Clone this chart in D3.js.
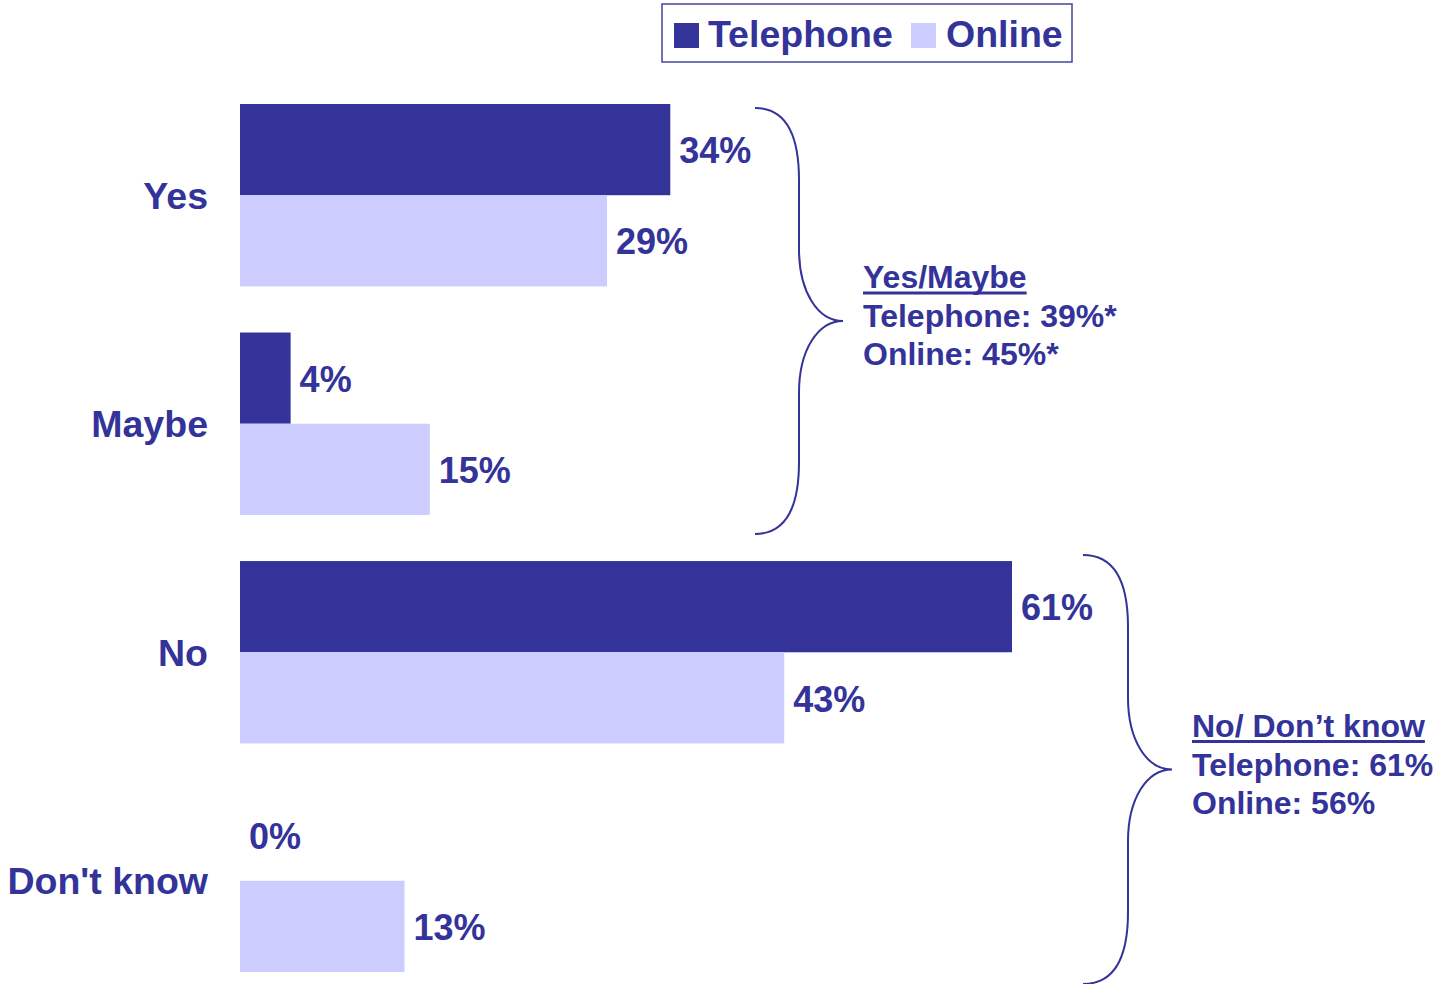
<!DOCTYPE html>
<html>
<head>
<meta charset="utf-8">
<script src="https://cdn.jsdelivr.net/npm/d3@7"></script>
<style>
  html, body { margin: 0; padding: 0; background: #fff; }
  svg { display: block; }
  text { font-family: "Liberation Sans", Arial, Helvetica, sans-serif; font-weight: bold; fill: #333399; }
</style>
</head>
<body>
<svg id="chart" width="1435" height="984"></svg>
<script>
// Survey answers by mode of interview
const categories = ["Yes", "Maybe", "No", "Don't know"];
const seriesNames = ["Telephone", "Online"];
const telephoneValues = [34, 4, 61, 0];
const onlineValues = [29, 15, 43, 13];
const seriesColors = ["#333399", "#CCCCFF"];

// Grouped totals shown beside the braces
const groupTitles = ["Yes/Maybe", "No/ Don\u2019t know"];
const groupSpans = [["Yes", "Maybe"], ["No", "Don't know"]];
const groupLines = [
  ["Telephone: 39%*", "Online: 45%*"],
  ["Telephone: 61%", "Online: 56%"]
];

const ink = "#333399";
const svg = d3.select("#chart");

const x = d3.scaleLinear().domain([0, 61]).range([240, 1012]);
const y = d3.scaleBand().domain(categories).range([104, 972]).paddingInner(46 / 228).paddingOuter(0);
const ySub = d3.scaleBand().domain(seriesNames).range([0, y.bandwidth()]);
const color = d3.scaleOrdinal().domain(seriesNames).range(seriesColors);

const rows = categories.map((c, i) => ({
  category: c,
  values: [
    { series: "Telephone", value: telephoneValues[i] },
    { series: "Online", value: onlineValues[i] }
  ]
}));

// Bars
const groups = svg.append("g").selectAll("g")
  .data(rows).join("g")
  .attr("transform", d => `translate(0,${y(d.category)})`);

groups.selectAll("rect")
  .data(d => d.values).join("rect")
  .attr("x", x(0))
  .attr("y", d => ySub(d.series))
  .attr("width", d => x(d.value) - x(0))
  .attr("height", ySub.bandwidth())
  .attr("fill", d => color(d.series));

// Value labels
groups.selectAll("text.val")
  .data(d => d.values).join("text")
  .attr("class", "val")
  .attr("x", d => x(d.value) + 9)
  .attr("y", d => ySub(d.series) + ySub.bandwidth() / 2)
  .attr("dy", "0.38em")
  .style("font-size", "36px")
  .text(d => d.value + "%");

// Category axis (labels only)
const yAxis = d3.axisLeft(y).tickSize(0).tickPadding(0);
const axisG = svg.append("g").attr("transform", "translate(208,0)").call(yAxis);
axisG.select(".domain").remove();
axisG.selectAll("text")
  .attr("dy", "0.36em")
  .style("font-size", "37.5px")
  .style("font-family", "'Liberation Sans', Arial, sans-serif")
  .style("font-weight", "bold")
  .attr("fill", ink);

// Legend
const legend = svg.append("g");
legend.append("rect")
  .attr("x", 662).attr("y", 4).attr("width", 410).attr("height", 58)
  .attr("fill", "#fff").attr("stroke", "#4444a0").attr("stroke-width", 1.5);
const legendItems = [
  { name: seriesNames[0], sx: 674, tx: 708 },
  { name: seriesNames[1], sx: 911, tx: 946 }
];
legendItems.forEach(it => {
  legend.append("rect")
    .attr("x", it.sx).attr("y", 23).attr("width", 25).attr("height", 25)
    .attr("fill", color(it.name));
  legend.append("text")
    .attr("x", it.tx).attr("y", 47)
    .style("font-size", "37.5px")
    .text(it.name);
});

// Braces with group totals
const braceSettings = [
  { xEnd: 755, xMid: 799, xTip: 843, dTop: 4, dBottom: 19, textX: 863 },
  { xEnd: 1083, xMid: 1128, xTip: 1172, dTop: -6, dBottom: 12, textX: 1192 }
];

function bracePath(x0, xm, xt, y0, y1, r) {
  const ym = (y0 + y1) / 2;
  return `M${x0},${y0}` +
    `C${xm - 10},${y0} ${xm},${y0 + r * 0.45} ${xm},${y0 + r}` +
    `L${xm},${ym - r}` +
    `C${xm},${ym - r * 0.4} ${xt - 25},${ym} ${xt},${ym}` +
    `C${xt - 25},${ym} ${xm},${ym + r * 0.4} ${xm},${ym + r}` +
    `L${xm},${y1 - r}` +
    `C${xm},${y1 - r * 0.45} ${xm - 10},${y1} ${x0},${y1}`;
}

groupSpans.forEach((span, i) => {
  const s = braceSettings[i];
  const y0 = y(span[0]) + s.dTop;
  const y1 = y(span[1]) + y.bandwidth() + s.dBottom;
  const ym = (y0 + y1) / 2;
  svg.append("path")
    .attr("d", bracePath(s.xEnd, s.xMid, s.xTip, y0, y1, 72))
    .attr("fill", "none")
    .attr("stroke", ink)
    .attr("stroke-width", 2);

  const g = svg.append("g");
  const title = g.append("text")
    .attr("x", s.textX).attr("y", ym - 33)
    .style("font-size", "32px")
    .text(groupTitles[i]);
  const w = title.node().getComputedTextLength();
  g.append("line")
    .attr("x1", s.textX).attr("x2", s.textX + w)
    .attr("y1", ym - 28).attr("y2", ym - 28)
    .attr("stroke", ink).attr("stroke-width", 3);
  groupLines[i].forEach((line, j) => {
    g.append("text")
      .attr("x", s.textX).attr("y", ym + 6 + j * 38.5)
      .style("font-size", "32px")
      .text(line);
  });
});
</script>
</body>
</html>
